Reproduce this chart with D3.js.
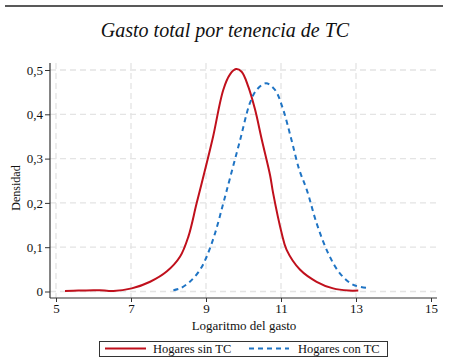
<!DOCTYPE html>
<html><head><meta charset="utf-8">
<script src="https://cdn.jsdelivr.net/npm/d3@7"></script>
<style>body{margin:0;background:#fff}svg{display:block}text{font-family:"Liberation Serif",serif;fill:#111}</style>
</head><body><div id="c"></div>
<script>
const title = "Gasto total por tenencia de TC";
const xLabel = "Logaritmo del gasto";
const yLabel = "Densidad";
const xTicks = [5, 7, 9, 11, 13, 15];
const yTicks = [0, 0.1, 0.2, 0.3, 0.4, 0.5];
const yTickLabels = ["0", "0,1", "0,2", "0,3", "0,4", "0,5"];
const seriesNames = ["Hogares sin TC", "Hogares con TC"];
// Hogares sin TC
const sinX = [5.24,5.6,6.0,6.17,6.53,7.02,7.51,7.95,8.31,8.53,8.75,9.02,9.19,9.46,9.64,9.80,9.95,10.13,10.31,10.49,10.71,10.79,11.02,11.15,11.51,11.95,12.39,12.8,13.06];
const sinY = [0.001,0.002,0.003,0.003,0.001,0.007,0.022,0.045,0.079,0.124,0.199,0.290,0.350,0.455,0.490,0.502,0.496,0.462,0.410,0.342,0.262,0.222,0.131,0.094,0.049,0.022,0.007,0.002,0.002];
// Hogares con TC
const conX = [8.13,8.31,8.57,8.84,9.02,9.24,9.46,9.64,9.91,10.17,10.35,10.6,10.84,11.06,11.28,11.49,11.69,11.95,12.26,12.57,12.93,13.33];
const conY = [0.003,0.007,0.022,0.049,0.079,0.131,0.199,0.256,0.342,0.425,0.455,0.470,0.455,0.410,0.342,0.274,0.229,0.154,0.086,0.041,0.015,0.008];

(function(){
const W = 450, H = 362;
const svg = d3.select("#c").append("svg").attr("width", W).attr("height", H);
const x = d3.scaleLinear().domain([5, 15]).range([56, 431]);
const y = d3.scaleLinear().domain([0, 0.5]).range([291.5, 70]);
const pL = 50, pR = 437, pT = 63, pB = 298;

svg.append("line").attr("x1", 5).attr("x2", 443).attr("y1", 6).attr("y2", 6)
  .attr("stroke", "#222").attr("stroke-width", 1.5);

svg.append("text").attr("x", 225).attr("y", 37).attr("text-anchor", "middle")
  .style("font-style", "italic").style("font-size", "20px").text(title);

// grid
const gridC = "#e4e4e4";
svg.append("g").selectAll("line").data(yTicks).join("line")
  .attr("x1", pL).attr("x2", pR).attr("y1", d => y(d)).attr("y2", d => y(d))
  .attr("stroke", gridC).attr("stroke-width", 1.3).attr("stroke-dasharray", "6,4");
svg.append("g").selectAll("line").data(xTicks.filter(d => d < 15)).join("line")
  .attr("x1", d => x(d)).attr("x2", d => x(d)).attr("y1", pT).attr("y2", pB)
  .attr("stroke", gridC).attr("stroke-width", 1.3).attr("stroke-dasharray", "6,4");

// axes
const xAxis = d3.axisBottom(x).tickValues(xTicks).tickSize(4).tickSizeOuter(0).tickPadding(2);
const gx = svg.append("g").attr("transform", `translate(0,${pB})`).call(xAxis);
gx.select(".domain").attr("d", `M${pL},0H${pR}`).attr("stroke", "#333").attr("stroke-width", 1.2);
gx.selectAll(".tick line").attr("stroke", "#333");
gx.selectAll(".tick text").style("font-family", "Liberation Serif").style("font-size", "13px").attr("fill", "#111");

const yAxis = d3.axisLeft(y).tickValues(yTicks).tickFormat((d, i) => yTickLabels[i]).tickSize(5).tickSizeOuter(0).tickPadding(2);
const gy = svg.append("g").attr("transform", `translate(${pL},0)`).call(yAxis);
gy.select(".domain").attr("d", `M0,${pT}V${pB}`).attr("stroke", "#333").attr("stroke-width", 1.2);
gy.selectAll(".tick line").attr("stroke", "#333");
gy.selectAll(".tick text").style("font-family", "Liberation Serif").style("font-size", "13px").attr("fill", "#111");

svg.append("text").attr("x", 244).attr("y", 330).attr("text-anchor", "middle")
  .style("font-size", "13px").text(xLabel);
svg.append("text").attr("transform", "translate(20,188) rotate(-90)").attr("text-anchor", "middle")
  .style("font-size", "12px").text(yLabel);

const line = d3.line().x(d => x(d[0])).y(d => y(d[1])).curve(d3.curveCatmullRom.alpha(0.5));
const red = "#c0101c", blue = "#1f74c4";
svg.append("path").attr("d", line(d3.zip(sinX, sinY))).attr("fill", "none")
  .attr("stroke", red).attr("stroke-width", 2);
svg.append("path").attr("d", line(d3.zip(conX, conY))).attr("fill", "none")
  .attr("stroke", blue).attr("stroke-width", 2).attr("stroke-dasharray", "5,4");

// legend
svg.append("rect").attr("x", 99.5).attr("y", 341.5).attr("width", 288).attr("height", 15)
  .attr("fill", "#fff").attr("stroke", "#333").attr("stroke-width", 1);
svg.append("line").attr("x1", 105).attr("x2", 146).attr("y1", 348.5).attr("y2", 348.5)
  .attr("stroke", red).attr("stroke-width", 2);
svg.append("line").attr("x1", 249).attr("x2", 289).attr("y1", 348.5).attr("y2", 348.5)
  .attr("stroke", blue).attr("stroke-width", 2).attr("stroke-dasharray", "5,4");
svg.append("text").attr("x", 153).attr("y", 353).style("font-size", "12.5px").text(seriesNames[0]);
svg.append("text").attr("x", 298).attr("y", 353).style("font-size", "12.5px").text(seriesNames[1]);
})();
</script></body></html>
